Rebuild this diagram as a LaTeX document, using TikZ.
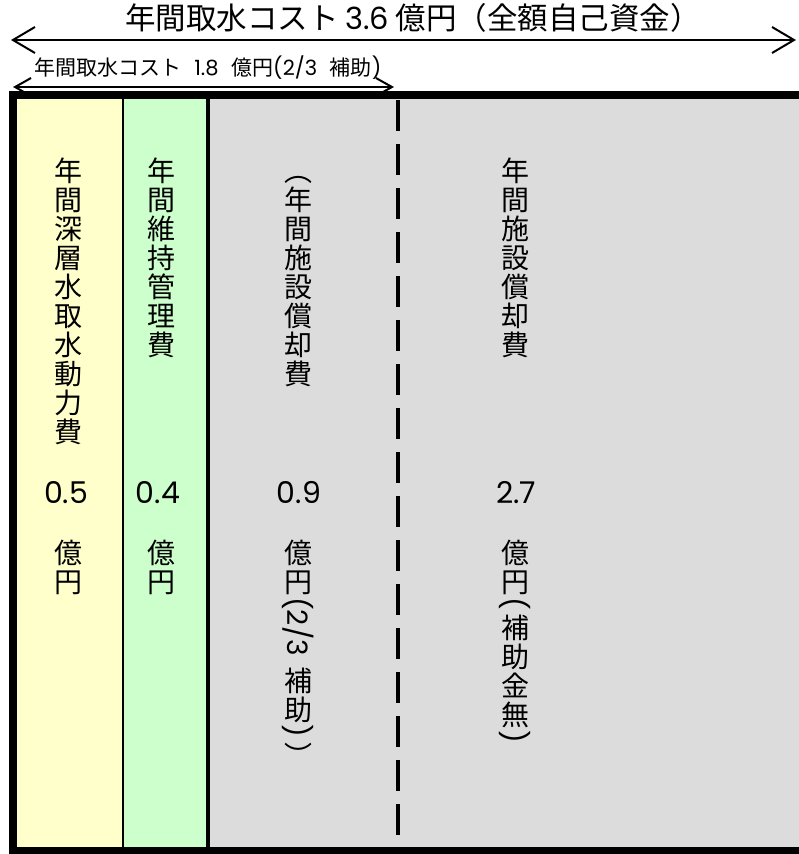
\documentclass[tikz,border=0pt]{standalone}
\usepackage{fontspec}
\setmainfont{Noto Sans CJK JP}
\newfontfamily\numfont{Poppins}
\usepackage{graphicx}
\usetikzlibrary{arrows.meta, positioning}
\definecolor{powerfill}{HTML}{FFFFCC}
\definecolor{upkeepfill}{HTML}{CCFFCC}
\definecolor{depfill}{HTML}{DCDCDC}
% one upright character / one turned piece of a vertical label
\newcommand{\vchar}[1]{\hbox to 34pt{\hss\rule[-4.4pt]{0pt}{29pt}\smash{#1}\hss}}
\newcommand{\vturn}[1]{\hbox to 34pt{\hss\rotatebox[origin=c]{-90}{\numfont #1}\hss}}
\newcommand{\vstack}[1]{\vbox{\offinterlineskip#1}}
\tikzset{%
    colfill/.style = {fill=#1, draw=none, anchor=north west,
        minimum height=748pt, inner sep=0pt},
    vlabel/.style = {anchor=north, inner sep=0pt, font=\fontsize{28}{29}\selectfont},
    amount/.style = {inner sep=0pt, font=\fontsize{30}{30}\selectfont\numfont},
    totalarrow/.style = {line width=2pt, <->, >={Straight Barb[length=22pt,width=26pt]}},
    subarrow/.style = {line width=2pt, <->, >={Straight Barb[length=16pt,width=18pt]}}
}

\begin{document}
\begin{tikzpicture}[x=1pt, y=-1pt]
    \useasboundingbox (0,0) rectangle (798,854);
    % columns
    \node [colfill=depfill, minimum width=620pt] (depcol) at (208,99) {};
    \node [colfill=powerfill, minimum width=106pt] (powercol) at (17,99) {};
    \node [colfill=upkeepfill, minimum width=85pt] (upkeepcol) at (123,99) {};
    \draw [line width=2pt] (powercol.north east) -- (powercol.south east);
    \draw [line width=4pt] (upkeepcol.north east) -- (upkeepcol.south east);
    \coordinate (splittop) at (398,100);
    \coordinate (splitbot) at (398,847);
    \draw [line width=4pt, dash pattern=on 31pt off 13pt] (splittop) -- (splitbot);
    \draw [line width=8pt] (13,95) rectangle (830,851);
    % spans
    \node [font=\fontsize{30.5}{32}\selectfont] (totalcost) at (413,18)
        {年間取水コスト {\numfont 3.6} 億円（全額自己資金）};
    \coordinate (totalL) at (11,40);
    \coordinate (totalR) at (796,40);
    \draw [totalarrow] (totalL) -- (totalR);
    \node [font=\fontsize{21}{22}\selectfont] (subcost) at (208,68)
        {年間取水コスト\hspace{0.6em}{\numfont 1.8}\hspace{0.6em}億円{\numfont(2/3}\hspace{0.6em}補助{\numfont)}};
    \coordinate (subL) at (13,87);
    \coordinate (subR) at (394,87);
    \draw [subarrow] (subL) -- (subR);
    % column texts
    \node [vlabel] (powername) at (68,157) {\vstack{\vchar{年}\vchar{間}\vchar{深}\vchar{層}\vchar{水}\vchar{取}\vchar{水}\vchar{動}\vchar{力}\vchar{費}}};
    \node [amount] (poweramt) at (66,493) {0.5};
    \node [vlabel] (powerunit) at (68,539) {\vstack{\vchar{億}\vchar{円}}};
    \node [vlabel] (upkeepname) at (161,157) {\vstack{\vchar{年}\vchar{間}\vchar{維}\vchar{持}\vchar{管}\vchar{理}\vchar{費}}};
    \node [amount] (upkeepamt) at (158,493) {0.4};
    \node [vlabel] (upkeepunit) at (161,539) {\vstack{\vchar{億}\vchar{円}}};
    \node [vlabel] (subdepname) at (298,157) {\vstack{\vchar{︵}\vchar{年}\vchar{間}\vchar{施}\vchar{設}\vchar{償}\vchar{却}\vchar{費}}};
    \node [amount] (subdepamt) at (299,493) {0.9};
    \node [vlabel] (subdepunit) at (298,539) {\vstack{\vchar{億}\vchar{円}\vturn{(2/3}\kern11pt\vchar{補}\vchar{助}\vturn{)}\vchar{︶}}};
    \node [vlabel] (depname) at (515,157) {\vstack{\vchar{年}\vchar{間}\vchar{施}\vchar{設}\vchar{償}\vchar{却}\vchar{費}}};
    \node [amount] (depamt) at (516,493) {2.7};
    \node [vlabel] (depunit) at (515,539) {\vstack{\vchar{億}\vchar{円}\vturn{(}\vchar{補}\vchar{助}\vchar{金}\vchar{無}\vturn{)}}};
\end{tikzpicture}
\end{document}
